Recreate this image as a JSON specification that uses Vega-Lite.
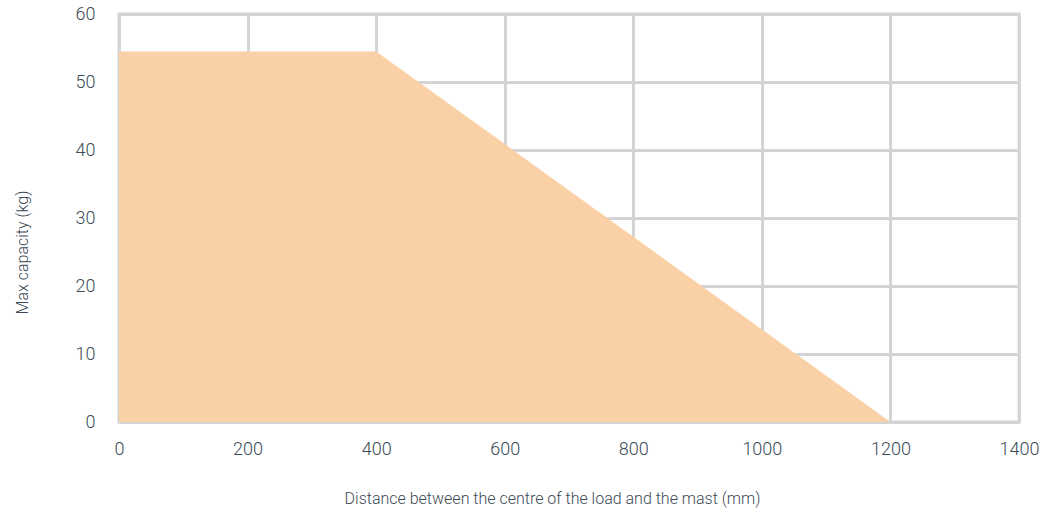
{
  "$schema": "https://vega.github.io/schema/vega-lite/v6.json",
  "width": 900,
  "height": 408,
  "autosize": {"type": "none"},
  "padding": {"left": 119, "top": 14, "right": 20, "bottom": 90},
  "background": "white",
  "config": {
    "view": {"stroke": "#d4d4d4", "strokeWidth": 3},
    "font": "Roboto",
    "axis": {
      "grid": true,
      "gridColor": "#d4d4d4",
      "gridWidth": 3,
      "gridOpacity": 1,
      "domain": false,
      "ticks": false,
      "labelColor": "#3b4a56",
      "titleColor": "#3b4a56",
      "labelFont": "Roboto",
      "titleFont": "Roboto",
      "labelFontSize": 18,
      "labelFontWeight": 300,
      "titleFontSize": 16,
      "titleFontWeight": 300,
      "zindex": 1
    }
  },
  "data": {
    "values": [
      {"distance": 0, "capacity": 54.5},
      {"distance": 400, "capacity": 54.5},
      {"distance": 1200, "capacity": 0}
    ]
  },
  "mark": {"type": "area", "color": "#fad0a6", "opacity": 1},
  "encoding": {
    "x": {
      "field": "distance",
      "type": "quantitative",
      "scale": {"domain": [0, 1400], "nice": false},
      "axis": {
        "values": [0, 200, 400, 600, 800, 1000, 1200, 1400],
        "format": "d",
        "labelPadding": 27,
        "labelBaseline": "middle",
        "labelFlush": false,
        "title": "Distance between the centre of the load and the mast (mm)",
        "titleX": 433,
        "titleY": 76,
        "titleBaseline": "middle",
        "titleAnchor": "middle"
      }
    },
    "y": {
      "field": "capacity",
      "type": "quantitative",
      "scale": {"domain": [0, 60], "nice": false},
      "axis": {
        "values": [0, 10, 20, 30, 40, 50, 60],
        "format": "d",
        "labelPadding": 24,
        "labelFlush": false,
        "title": "Max capacity (kg)",
        "titleX": -97,
        "titleY": 238,
        "titleBaseline": "middle",
        "titleAnchor": "middle",
        "titleAngle": -90
      }
    }
  }
}
